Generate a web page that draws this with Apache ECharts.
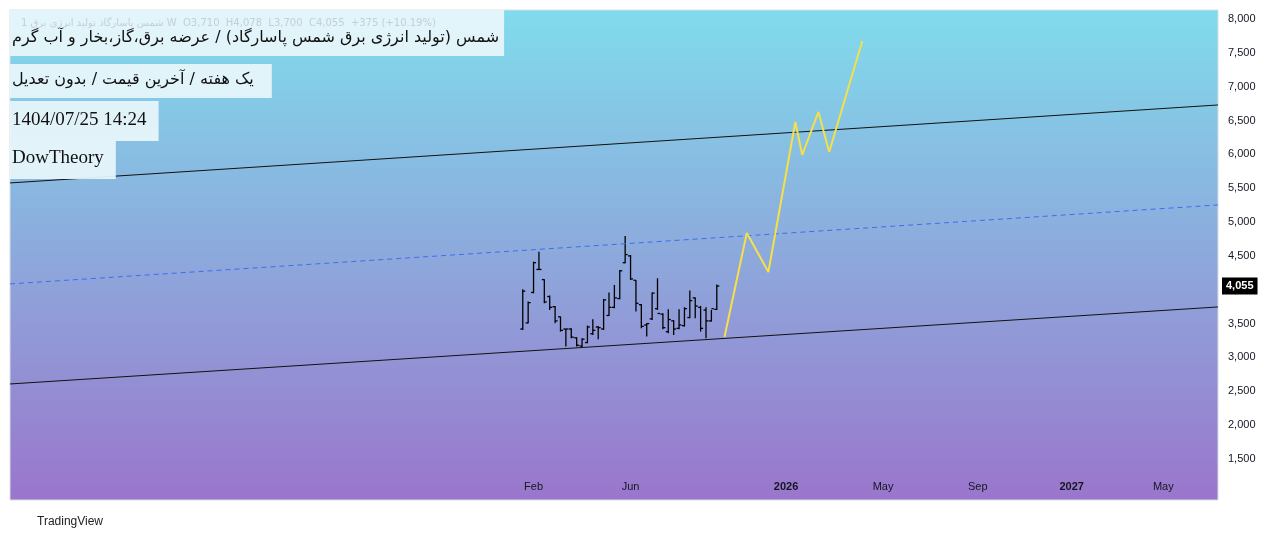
<!DOCTYPE html>
<html><head><meta charset="utf-8">
<script src="https://cdn.jsdelivr.net/npm/echarts@6/dist/echarts.min.js"></script>
<style>html,body{margin:0;background:#fff}#c{width:1282px;height:535px}</style>
</head><body><div id="c"></div>
<script>
// weekly OHLC bars, start date and values
const barStart = '2025-01-18';
const opens  = [3420,3510,3960,4300,4150,3900,3750,3600,3420,3420,3290,3170,3220,3350,3450,3420,3620,3740,3870,4400,4500,4140,3780,3480,3570,3720,3640,3380,3540,3430,3470,3590,3880,3740,3700,3540,3710];
const highs  = [4007,3825,4416,4563,4155,3914,3761,3604,3422,3432,3299,3284,3471,3564,3466,3864,3958,4071,4293,4794,4514,4145,3791,3505,3958,4170,3653,3712,3555,3712,3742,3988,3884,3761,3742,3702,4078];
const lows   = [3407,3505,3948,4293,3800,3702,3505,3382,3161,3284,3161,3151,3210,3333,3269,3407,3614,3727,3860,4391,4145,3678,3432,3309,3555,3702,3417,3358,3333,3417,3456,3579,3579,3382,3284,3530,3700];
const closes = [3980,3810,4400,4300,3820,3740,3540,3400,3420,3300,3180,3270,3450,3400,3440,3850,3740,3880,4280,4520,4160,3800,3460,3500,3950,3650,3440,3560,3420,3480,3720,3840,3760,3430,3540,3720,4055];
// channel lines [date, value]
const upperLine = [['2023-03-24',5578],['2027-07-10',6730]];
const midLine   = [['2023-03-24',4086],['2027-07-10',5253]];
const lowerLine = [['2023-03-24',2608],['2027-07-10',3746]];
// projected zigzag
const zigDates  = ['2025-10-07','2025-11-05','2025-12-03','2026-01-07','2026-01-16','2026-02-06','2026-02-20','2026-04-04'];
const zigValues = [3303,4839,4263,6479,5991,6627,6036,7675];
// axis labels
const xTickDates  = ['2025-02-01','2025-06-07','2025-12-26','2026-05-01','2026-09-01','2027-01-01','2027-04-30'];
const xTickLabels = ['Feb','Jun','2026','May','Sep','2027','May'];
const yTickValues = [1500,2000,2500,3000,3500,4000,4500,5000,5500,6000,6500,7000,7500,8000];
const lastPrice = 4055;

const day = 86400000;
const t0 = new Date(barStart + 'T00:00:00Z').getTime();
const ohlc = opens.map((o,i)=>[t0 + i*7*day, o, highs[i], lows[i], closes[i]]);
const ts = d => new Date(d + 'T00:00:00Z').getTime();
const tickTs = xTickDates.map(ts);

const chart = echarts.init(document.getElementById('c'));
const boxStyle = {backgroundColor:'rgba(232,246,251,0.93)'};
const yBase = {type:'value',position:'right',min:894,max:8133,axisLine:{show:false},axisTick:{show:false},splitLine:{show:false}};
chart.setOption({
  animation:false,
  graphic:[{type:'rect',left:10,top:10,shape:{width:1208,height:490},z:-10,
    style:{fill:new echarts.graphic.LinearGradient(0,0,0,1,[{offset:0,color:'#80dcec'},{offset:1,color:'#9a76cc'}])}}],
  title:[
    {text:'شمس (تولید انرژی برق شمس پاسارگاد) / عرضه برق،گاز،بخار و آب گرم',left:10,top:10,padding:[20,5,10,2],
      textStyle:{fontFamily:'DejaVu Sans',fontSize:16,fontWeight:'normal',color:'#111'},...boxStyle},
    {text:'1 شمس پاسارگاد تولید انرژی برق W  O3,710  H4,078  L3,700  C4,055  +375 (+10.19%)',left:16,top:13,
      textStyle:{fontFamily:'DejaVu Sans',fontSize:10,fontWeight:'normal',color:'#c4cfd6'}},
    {text:'یک هفته / آخرین قیمت / بدون تعدیل',left:10,top:64,padding:[8,18,10,2],
      textStyle:{fontFamily:'DejaVu Sans',fontSize:16,fontWeight:'normal',color:'#111'},...boxStyle},
    {text:'1404/07/25 14:24',left:10,top:101,padding:[10,12,11,2],
      textStyle:{fontFamily:'Liberation Serif',fontSize:19,fontWeight:'normal',color:'#111'},...boxStyle},
    {text:'DowTheory',left:10,top:141,padding:[8,12,11,2],
      textStyle:{fontFamily:'Liberation Serif',fontSize:19,fontWeight:'normal',color:'#111'},...boxStyle},
    {text:'TradingView',left:32,top:511,textStyle:{fontFamily:'Liberation Sans',fontSize:12,fontWeight:'normal',color:'#222'}}
  ],
  grid:{left:10,right:64,top:10,bottom:35,show:true,borderColor:'#d8dde3',borderWidth:1},
  xAxis:{type:'value',min:ts('2023-03-24'),max:ts('2027-07-10'),
    axisLine:{show:false},axisTick:{show:false},splitLine:{show:false},
    axisLabel:{inside:true,customValues:tickTs,margin:8,color:'#131722',fontFamily:'Liberation Sans',fontSize:11,
      formatter:v=>{const i=tickTs.indexOf(v);const s=i>=0?xTickLabels[i]:'';return /^\d{4}$/.test(s)?'{b|'+s+'}':s;},
      rich:{b:{fontWeight:'bold',fontSize:11,color:'#131722',fontFamily:'Liberation Sans'}}}},
  yAxis:[
    {...yBase,axisLabel:{customValues:yTickValues,margin:10,color:'#131722',fontFamily:'Liberation Sans',fontSize:11,
      formatter:v=>v.toLocaleString('en-US')}},
    {...yBase,axisLabel:{customValues:[lastPrice],margin:4,color:'#fff',fontWeight:'bold',fontFamily:'Liberation Sans',fontSize:11,
      backgroundColor:'#000',padding:[3,4,3,4],formatter:v=>v.toLocaleString('en-US')}}
  ],
  series:[
    {type:'line',data:upperLine.map(p=>[ts(p[0]),p[1]]),symbol:'none',lineStyle:{color:'#111',width:1}},
    {type:'line',data:lowerLine.map(p=>[ts(p[0]),p[1]]),symbol:'none',lineStyle:{color:'#111',width:1}},
    {type:'line',data:midLine.map(p=>[ts(p[0]),p[1]]),symbol:'none',lineStyle:{color:'#3d6df0',width:1,type:[5,4]}},
    {type:'line',data:zigDates.map((d,i)=>[ts(d),zigValues[i]]),symbol:'none',lineStyle:{color:'#f5e04a',width:2}},
    {type:'custom',data:ohlc,encode:{x:0,y:[1,2,3,4]},
      renderItem:(params,api)=>{
        const x=api.value(0);
        const o=api.coord([x,api.value(1)]),h=api.coord([x,api.value(2)]),l=api.coord([x,api.value(3)]),c=api.coord([x,api.value(4)]);
        const st={stroke:'#000',lineWidth:1.3};
        return {type:'group',children:[
          {type:'line',shape:{x1:h[0],y1:h[1],x2:l[0],y2:l[1]},style:st},
          {type:'line',shape:{x1:o[0]-2.5,y1:o[1],x2:o[0],y2:o[1]},style:st},
          {type:'line',shape:{x1:c[0],y1:c[1],x2:c[0]+2.5,y2:c[1]},style:st}]};
      }}
  ]
});
</script></body></html>
